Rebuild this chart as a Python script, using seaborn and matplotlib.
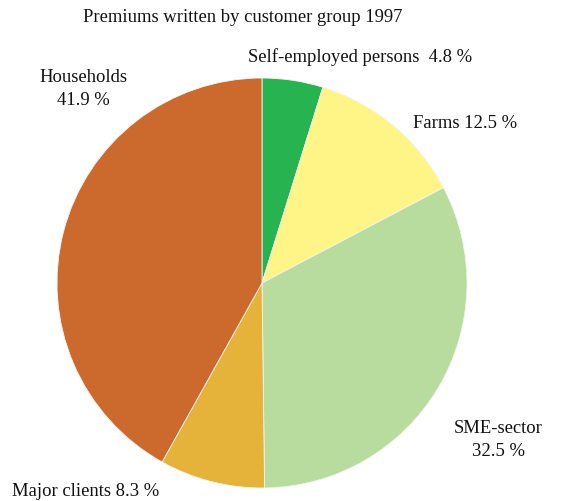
import matplotlib
matplotlib.use("Agg")
import matplotlib.pyplot as plt
import seaborn as sns

categories = ["Self-employed persons", "Farms", "SME-sector", "Major clients", "Households"]
values = [4.8, 12.5, 32.5, 8.3, 41.9]
colors = ["#27b34f", "#fff587", "#b8dc9e", "#e6b33a", "#cb6a2c"]
title = "Premiums written by customer group 1997"

sns.set_theme(style="white")
plt.rcParams["font.family"] = ["Liberation Serif", "DejaVu Serif"]

W, H = 567, 501
fig = plt.figure(figsize=(W / 100, H / 100), dpi=100)
cx, cy, r = 262, 283, 205
ax = fig.add_axes([(cx - r) / W, (H - cy - r) / H, 2 * r / W, 2 * r / H])
ax.pie(values, colors=colors, startangle=90, counterclock=False, radius=1,
       wedgeprops=dict(edgecolor="#f4f4f4", linewidth=0.6))
ax.set_xlim(-1, 1)
ax.set_ylim(-1, 1)
ax.set_aspect("auto")
ax.axis("off")

def px(x, y):
    return x / W, 1 - y / H

fs = 13.4
fig.text(*px(243, 18), title, ha="center", va="center", fontsize=fs, color="#111111")
fig.text(*px(248, 57), f"{categories[0]}  {values[0]} %", ha="left", va="center", fontsize=fs, color="#111111")
fig.text(*px(413, 123), f"{categories[1]} {values[1]} %", ha="left", va="center", fontsize=fs, color="#111111")
fig.text(*px(498, 440), f"{categories[2]}\n{values[2]} %", ha="center", va="center", fontsize=fs,
         linespacing=1.45, color="#111111")
fig.text(*px(12, 491), f"{categories[3]} {values[3]} %", ha="left", va="center", fontsize=fs, color="#111111")
fig.text(*px(83, 89), f"{categories[4]}\n{values[4]} %", ha="center", va="center", fontsize=fs,
         linespacing=1.45, color="#111111")

fig.savefig("out.png", dpi=100, facecolor="white")
